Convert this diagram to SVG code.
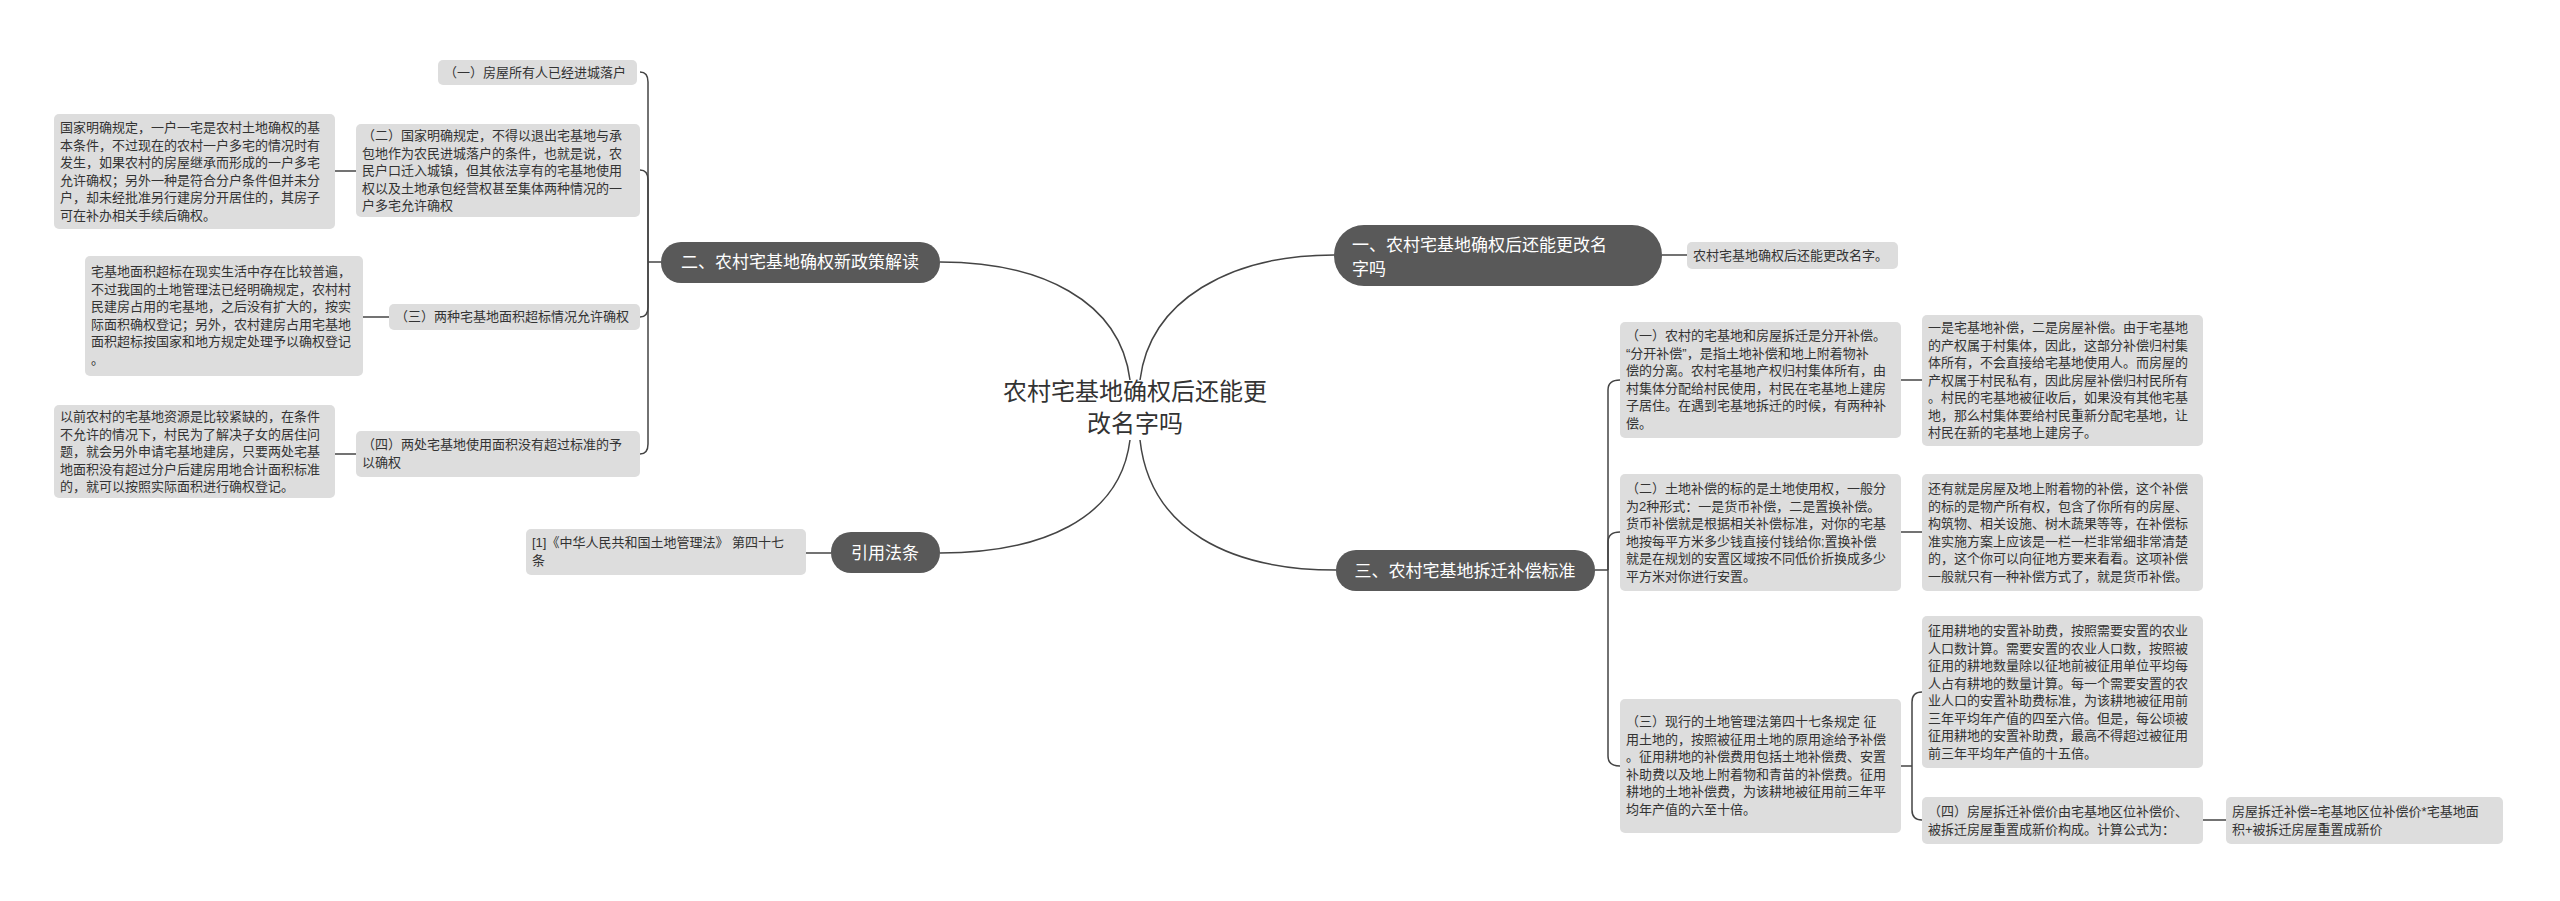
<svg xmlns="http://www.w3.org/2000/svg" width="2560" height="901" viewBox="0 0 2560 901">
<style>
.b{fill:#dddddd}
.m{fill:#595959}
.t{font-family:"Liberation Sans","Noto Sans CJK SC",sans-serif;font-size:13px;fill:#333}
.mt{font-family:"Liberation Sans","Noto Sans CJK SC",sans-serif;font-size:17px;fill:#fff}
.c{font-family:"Liberation Sans","Noto Sans CJK SC",sans-serif;font-size:24px;fill:#333;text-anchor:middle}
#conn path{fill:none;stroke:#444;stroke-width:1.5}
</style>
<rect width="2560" height="901" fill="#fff"/>
<g id="conn">
<path d="M1130,380 C1120,300 1040,262 940,262"/>
<path d="M1140,380 C1150,300 1230,255 1334,255"/>
<path d="M1130,440 C1120,520 1040,553 940,553"/>
<path d="M1140,440 C1150,530 1230,570 1336,570"/>
<path d="M661,262 L648,262"/>
<path d="M648,262 L648,82 Q648,72 640,72"/>
<path d="M648,262 L648,180 Q648,170 640,170"/>
<path d="M648,262 L648,307 Q648,317 640,317"/>
<path d="M648,262 L648,444 Q648,454 640,454"/>
<path d="M335,171 L356,171"/>
<path d="M363,317 L389,317"/>
<path d="M335,454 L356,454"/>
<path d="M831,553 L806,553"/>
<path d="M1662,255 L1687,255"/>
<path d="M1595,570 L1608,570"/>
<path d="M1608,570 L1608,390 Q1608,380 1620,380"/>
<path d="M1608,570 L1608,542 Q1608,532 1620,532"/>
<path d="M1608,570 L1608,756 Q1608,766 1620,766"/>
<path d="M1901,380 L1922,380"/>
<path d="M1901,532 L1922,532"/>
<path d="M1901,766 L1912,766"/>
<path d="M1912,766 L1912,702 Q1912,692 1922,692"/>
<path d="M1912,766 L1912,810 Q1912,820 1922,820"/>
<path d="M2203,820 L2226,820"/>
</g>
<g id="center"><text class="c" x="1135" y="400">农村宅基地确权后还能更</text><text class="c" x="1135" y="432">改名字吗</text></g>
<g id="n2"><rect class="m" x="661" y="242" width="279" height="41" rx="20"/><text class="mt" x="800" y="268" text-anchor="middle">二、农村宅基地确权新政策解读</text></g>
<g id="n4"><rect class="m" x="831" y="532" width="109" height="41" rx="20"/><text class="mt" x="885" y="559" text-anchor="middle">引用法条</text></g>
<g id="n1"><rect class="m" x="1334" y="225" width="328" height="61" rx="30"/><text class="mt" x="1352" y="251">一、农村宅基地确权后还能更改名</text><text class="mt" x="1352" y="275">字吗</text></g>
<g id="n3"><rect class="m" x="1336" y="550" width="259" height="41" rx="20"/><text class="mt" x="1465" y="577" text-anchor="middle">三、农村宅基地拆迁补偿标准</text></g>

<g id="a1"><rect class="b" x="438" y="60" width="199" height="25" rx="5"/><text class="t" x="444" y="77">（一）房屋所有人已经进城落户</text></g>
<g id="a2l"><rect class="b" x="54" y="114" width="281" height="115" rx="5"/><text class="t" y="132"><tspan x="60">国家明确规定，一户一宅是农村土地确权的基</tspan><tspan x="60" dy="17.5">本条件，不过现在的农村一户多宅的情况时有</tspan><tspan x="60" dy="17.5">发生，如果农村的房屋继承而形成的一户多宅</tspan><tspan x="60" dy="17.5">允许确权；另外一种是符合分户条件但并未分</tspan><tspan x="60" dy="17.5">户，却未经批准另行建房分开居住的，其房子</tspan><tspan x="60" dy="17.5">可在补办相关手续后确权。</tspan></text></g>
<g id="a2"><rect class="b" x="356" y="124" width="284" height="93" rx="5"/><text class="t" y="140"><tspan x="362">（二）国家明确规定，不得以退出宅基地与承</tspan><tspan x="362" dy="17.5">包地作为农民进城落户的条件，也就是说，农</tspan><tspan x="362" dy="17.5">民户口迁入城镇，但其依法享有的宅基地使用</tspan><tspan x="362" dy="17.5">权以及土地承包经营权甚至集体两种情况的一</tspan><tspan x="362" dy="17.5">户多宅允许确权</tspan></text></g>
<g id="a3l"><rect class="b" x="85" y="256" width="278" height="120" rx="5"/><text class="t" y="276"><tspan x="91">宅基地面积超标在现实生活中存在比较普遍，</tspan><tspan x="91" dy="17.5">不过我国的土地管理法已经明确规定，农村村</tspan><tspan x="91" dy="17.5">民建房占用的宅基地，之后没有扩大的，按实</tspan><tspan x="91" dy="17.5">际面积确权登记；另外，农村建房占用宅基地</tspan><tspan x="91" dy="17.5">面积超标按国家和地方规定处理予以确权登记</tspan><tspan x="91" dy="17.5">。</tspan></text></g>
<g id="a3"><rect class="b" x="389" y="304" width="251" height="26" rx="5"/><text class="t" x="395" y="321">（三）两种宅基地面积超标情况允许确权</text></g>
<g id="a4l"><rect class="b" x="54" y="405" width="281" height="93" rx="5"/><text class="t" y="421"><tspan x="60">以前农村的宅基地资源是比较紧缺的，在条件</tspan><tspan x="60" dy="17.5">不允许的情况下，村民为了解决子女的居住问</tspan><tspan x="60" dy="17.5">题，就会另外申请宅基地建房，只要两处宅基</tspan><tspan x="60" dy="17.5">地面积没有超过分户后建房用地合计面积标准</tspan><tspan x="60" dy="17.5">的，就可以按照实际面积进行确权登记。</tspan></text></g>
<g id="a4"><rect class="b" x="356" y="431" width="284" height="46" rx="5"/><text class="t" y="449"><tspan x="362">（四）两处宅基地使用面积没有超过标准的予</tspan><tspan x="362" dy="17.5">以确权</tspan></text></g>
<g id="law"><rect class="b" x="526" y="529" width="280" height="46" rx="5"/><text class="t" y="547"><tspan x="532">[1]《中华人民共和国土地管理法》 第四十七</tspan><tspan x="532" dy="17.5">条</tspan></text></g>
<g id="b1"><rect class="b" x="1687" y="242" width="211" height="27" rx="5"/><text class="t" x="1693" y="260">农村宅基地确权后还能更改名字。</text></g>
<g id="c1"><rect class="b" x="1620" y="322" width="281" height="116" rx="5"/><text class="t" y="340"><tspan x="1626">（一）农村的宅基地和房屋拆迁是分开补偿。</tspan><tspan x="1626" dy="17.5">“分开补偿”，是指土地补偿和地上附着物补</tspan><tspan x="1626" dy="17.5">偿的分离。农村宅基地产权归村集体所有，由</tspan><tspan x="1626" dy="17.5">村集体分配给村民使用，村民在宅基地上建房</tspan><tspan x="1626" dy="17.5">子居住。在遇到宅基地拆迁的时候，有两种补</tspan><tspan x="1626" dy="17.5">偿。</tspan></text></g>
<g id="c1r"><rect class="b" x="1922" y="315" width="281" height="131" rx="5"/><text class="t" y="332"><tspan x="1928">一是宅基地补偿，二是房屋补偿。由于宅基地</tspan><tspan x="1928" dy="17.5">的产权属于村集体，因此，这部分补偿归村集</tspan><tspan x="1928" dy="17.5">体所有，不会直接给宅基地使用人。而房屋的</tspan><tspan x="1928" dy="17.5">产权属于村民私有，因此房屋补偿归村民所有</tspan><tspan x="1928" dy="17.5">。村民的宅基地被征收后，如果没有其他宅基</tspan><tspan x="1928" dy="17.5">地，那么村集体要给村民重新分配宅基地，让</tspan><tspan x="1928" dy="17.5">村民在新的宅基地上建房子。</tspan></text></g>
<g id="c2"><rect class="b" x="1620" y="474" width="281" height="117" rx="5"/><text class="t" y="493"><tspan x="1626">（二）土地补偿的标的是土地使用权，一般分</tspan><tspan x="1626" dy="17.5">为2种形式：一是货币补偿，二是置换补偿。</tspan><tspan x="1626" dy="17.5">货币补偿就是根据相关补偿标准，对你的宅基</tspan><tspan x="1626" dy="17.5">地按每平方米多少钱直接付钱给你;置换补偿</tspan><tspan x="1626" dy="17.5">就是在规划的安置区域按不同低价折换成多少</tspan><tspan x="1626" dy="17.5">平方米对你进行安置。</tspan></text></g>
<g id="c2r"><rect class="b" x="1922" y="474" width="281" height="117" rx="5"/><text class="t" y="493"><tspan x="1928">还有就是房屋及地上附着物的补偿，这个补偿</tspan><tspan x="1928" dy="17.5">的标的是物产所有权，包含了你所有的房屋、</tspan><tspan x="1928" dy="17.5">构筑物、相关设施、树木蔬果等等，在补偿标</tspan><tspan x="1928" dy="17.5">准实施方案上应该是一栏一栏非常细非常清楚</tspan><tspan x="1928" dy="17.5">的，这个你可以向征地方要来看看。这项补偿</tspan><tspan x="1928" dy="17.5">一般就只有一种补偿方式了，就是货币补偿。</tspan></text></g>
<g id="c3"><rect class="b" x="1620" y="699" width="281" height="134" rx="5"/><text class="t" y="726"><tspan x="1626">（三）现行的土地管理法第四十七条规定 征</tspan><tspan x="1626" dy="17.5">用土地的，按照被征用土地的原用途给予补偿</tspan><tspan x="1626" dy="17.5">。征用耕地的补偿费用包括土地补偿费、安置</tspan><tspan x="1626" dy="17.5">补助费以及地上附着物和青苗的补偿费。征用</tspan><tspan x="1626" dy="17.5">耕地的土地补偿费，为该耕地被征用前三年平</tspan><tspan x="1626" dy="17.5">均年产值的六至十倍。</tspan></text></g>
<g id="c3a"><rect class="b" x="1922" y="616" width="281" height="152" rx="5"/><text class="t" y="635"><tspan x="1928">征用耕地的安置补助费，按照需要安置的农业</tspan><tspan x="1928" dy="17.5">人口数计算。需要安置的农业人口数，按照被</tspan><tspan x="1928" dy="17.5">征用的耕地数量除以征地前被征用单位平均每</tspan><tspan x="1928" dy="17.5">人占有耕地的数量计算。每一个需要安置的农</tspan><tspan x="1928" dy="17.5">业人口的安置补助费标准，为该耕地被征用前</tspan><tspan x="1928" dy="17.5">三年平均年产值的四至六倍。但是，每公顷被</tspan><tspan x="1928" dy="17.5">征用耕地的安置补助费，最高不得超过被征用</tspan><tspan x="1928" dy="17.5">前三年平均年产值的十五倍。</tspan></text></g>
<g id="c4"><rect class="b" x="1922" y="797" width="281" height="47" rx="5"/><text class="t" y="816"><tspan x="1928">（四）房屋拆迁补偿价由宅基地区位补偿价、</tspan><tspan x="1928" dy="17.5">被拆迁房屋重置成新价构成。计算公式为：</tspan></text></g>
<g id="c4r"><rect class="b" x="2226" y="797" width="277" height="47" rx="5"/><text class="t" y="816"><tspan x="2232">房屋拆迁补偿=宅基地区位补偿价*宅基地面</tspan><tspan x="2232" dy="17.5">积+被拆迁房屋重置成新价</tspan></text></g>
</svg>
